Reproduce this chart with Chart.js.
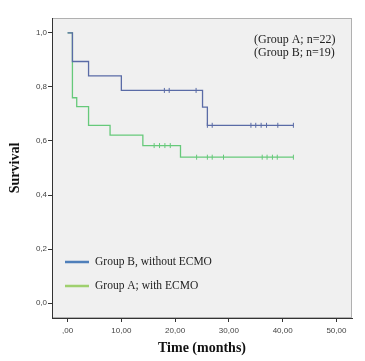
<!DOCTYPE html>
<html lang="en">
<head>
    <meta charset="UTF-8">
    <title>Survival</title>
    <script src="https://cdn.jsdelivr.net/npm/chart.js"></script>
    <style>
        html, body { margin: 0; padding: 0; background: #fff; }
        #chart-container { width: 365px; height: 361px; }
    </style>
</head>
<body>
    <div id="chart-container">
        <canvas id="myChart" width="365" height="361"></canvas>
    </div>
    <script>
        // Kaplan-Meier steps (months, survival)
        var groupBTimes = [0, 0.9, 3.9, 10, 25.1, 26, 42];
        var groupBSurv  = [1.0, 0.894, 0.841, 0.787, 0.725, 0.658, 0.658];
        var groupATimes = [0, 0.9, 1.7, 3.9, 7.9, 14, 21, 42];
        var groupASurv  = [1.0, 0.76, 0.727, 0.658, 0.622, 0.583, 0.54, 0.54];

        // censored cases
        var groupBCensorTimes = [18.0, 18.9, 23.9, 26.0, 26.9, 34.1, 35.0, 36.0, 37.0, 39.1, 42.0];
        var groupBCensorSurv  = [0.787, 0.787, 0.787, 0.658, 0.658, 0.658, 0.658, 0.658, 0.658, 0.658, 0.658];
        var groupACensorTimes = [16.1, 17.1, 18.1, 19.1, 24.0, 26.0, 26.9, 29.0, 36.2, 37.1, 38.1, 39.0, 42.0];
        var groupACensorSurv  = [0.583, 0.583, 0.583, 0.583, 0.54, 0.54, 0.54, 0.54, 0.54, 0.54, 0.54, 0.54, 0.54];

        var xTicks = [0, 10, 20, 30, 40, 50];
        var yTicks = [0, 0.2, 0.4, 0.6, 0.8, 1.0];

        var legendItems = ['Group B, without ECMO', 'Group A; with ECMO'];
        var noteLines = ['(Group A; n=22)', '(Group B; n=19)'];

        function pts(xs, ys) {
            return xs.map(function (x, i) { return { x: x, y: ys[i] }; });
        }

        function fmt(v) {
            var s = v.toFixed(2).replace('.', ',');
            return s.indexOf('0,') === 0 ? s.substring(1) : s;
        }

        var blue = '#5a6ba6';
        var green = '#66c97a';

        var plotBox = {
            id: 'plotBox',
            beforeDraw: function (chart) {
                var a = chart.chartArea, c = chart.ctx;
                c.save();
                c.fillStyle = '#f0f0f0';
                c.fillRect(a.left, a.top, a.right - a.left, a.bottom - a.top);
                c.strokeStyle = '#b0b0b0';
                c.lineWidth = 1;
                c.strokeRect(a.left + 0.5, a.top + 0.5, a.right - a.left - 1, a.bottom - a.top - 1);
                c.restore();
            },
            afterDraw: function (chart) {
                var c = chart.ctx;
                c.save();
                c.fillStyle = '#222';
                c.font = '12px "Liberation Serif", serif';
                c.textBaseline = 'middle';
                c.textAlign = 'left';
                c.fillText(noteLines[0], 254, 40);
                c.fillText(noteLines[1], 254, 53);

                var legendColors = ['#4f7fba', '#9fd06e'];
                var legendY = [262, 286];
                c.font = '11.5px "Liberation Serif", serif';
                for (var i = 0; i < legendItems.length; i++) {
                    c.strokeStyle = legendColors[i];
                    c.lineWidth = 2.5;
                    c.beginPath();
                    c.moveTo(65, legendY[i]);
                    c.lineTo(89, legendY[i]);
                    c.stroke();
                    c.fillText(legendItems[i], 95, legendY[i]);
                }
                c.restore();
            }
        };

        var ctx = document.getElementById('myChart').getContext('2d');
        var myChart = new Chart(ctx, {
            type: 'line',
            data: {
                datasets: [{
                    label: legendItems[0],
                    data: pts(groupBTimes, groupBSurv),
                    borderColor: blue,
                    borderWidth: 1.3,
                    stepped: 'before',
                    pointRadius: 0,
                    fill: false
                }, {
                    label: legendItems[1],
                    data: pts(groupATimes, groupASurv),
                    borderColor: green,
                    borderWidth: 1.3,
                    stepped: 'before',
                    pointRadius: 0,
                    fill: false
                }, {
                    label: 'B censored',
                    data: pts(groupBCensorTimes, groupBCensorSurv),
                    showLine: false,
                    pointStyle: 'line',
                    rotation: 90,
                    pointRadius: 2.5,
                    borderColor: blue,
                    borderWidth: 1
                }, {
                    label: 'A censored',
                    data: pts(groupACensorTimes, groupACensorSurv),
                    showLine: false,
                    pointStyle: 'line',
                    rotation: 90,
                    pointRadius: 2.5,
                    borderColor: green,
                    borderWidth: 1
                }]
            },
            options: {
                responsive: false,
                animation: false,
                layout: { padding: { left: 0, right: 13, top: 18, bottom: 0 } },
                plugins: {
                    legend: { display: false },
                    tooltip: { enabled: false }
                },
                scales: {
                    x: {
                        type: 'linear',
                        min: -2.9,
                        max: 52.9,
                        afterBuildTicks: function (s) {
                            s.ticks = xTicks.map(function (v) { return { value: v }; });
                        },
                        afterFit: function (s) { s.height = 43; },
                        ticks: {
                            callback: function (v) { return fmt(v); },
                            color: '#444',
                            font: { family: 'Arial, "Liberation Sans", sans-serif', size: 8 },
                            padding: 4,
                            maxRotation: 0
                        },
                        grid: { drawOnChartArea: false, tickLength: 4, color: '#333' },
                        border: { color: '#333', width: 1 },
                        title: {
                            display: true,
                            text: 'Time (months)',
                            color: '#111',
                            font: { family: '"Liberation Serif", serif', size: 14, weight: 'bold' },
                            padding: { top: 2, bottom: 4 }
                        }
                    },
                    y: {
                        min: -0.055,
                        max: 1.055,
                        afterBuildTicks: function (s) {
                            s.ticks = yTicks.map(function (v) { return { value: v }; });
                        },
                        afterFit: function (s) { s.width = 52; },
                        ticks: {
                            callback: function (v) { return v.toFixed(1).replace('.', ','); },
                            color: '#444',
                            font: { family: 'Arial, "Liberation Sans", sans-serif', size: 8 },
                            padding: 1
                        },
                        grid: { drawOnChartArea: false, tickLength: 4, color: '#333' },
                        border: { color: '#333', width: 1 },
                        title: {
                            display: true,
                            text: 'Survival',
                            color: '#111',
                            font: { family: '"Liberation Serif", serif', size: 14, weight: 'bold' },
                            padding: { top: 7, bottom: 0 }
                        }
                    }
                }
            },
            plugins: [plotBox]
        });
    </script>
</body>
</html>
